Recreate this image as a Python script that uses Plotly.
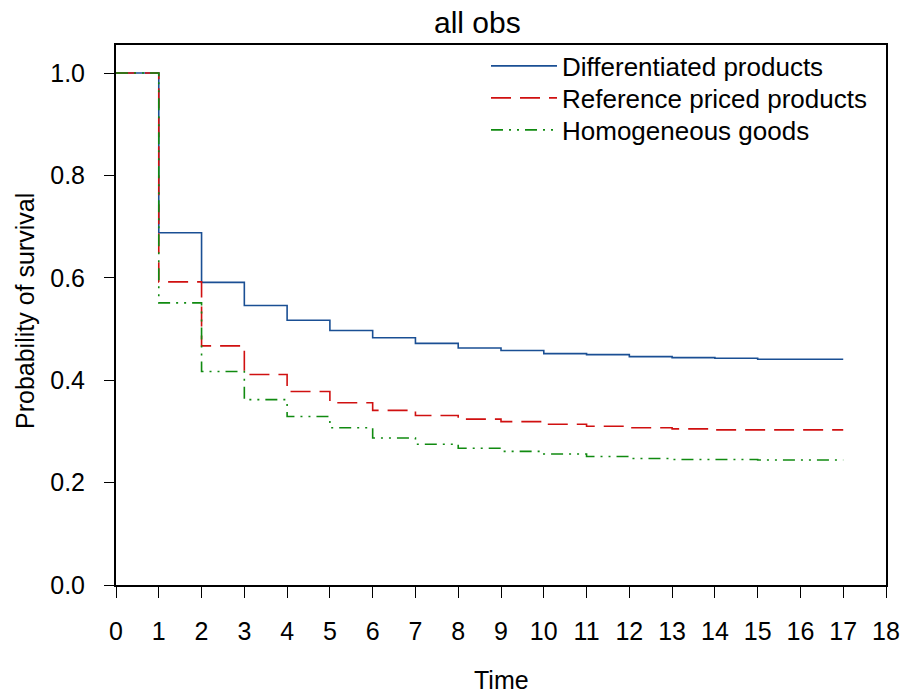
import plotly.graph_objects as go

time = list(range(0, 18))
diff_products = [1.0, 0.688, 0.591, 0.546, 0.517, 0.497, 0.483, 0.472, 0.463, 0.458,
                 0.452, 0.450, 0.446, 0.444, 0.443, 0.441, 0.441, 0.441]
ref_priced = [1.0, 0.592, 0.467, 0.411, 0.378, 0.356, 0.341, 0.331, 0.324, 0.319,
              0.314, 0.310, 0.307, 0.305, 0.303, 0.303, 0.303, 0.303]
homogeneous = [1.0, 0.551, 0.417, 0.362, 0.329, 0.307, 0.287, 0.275, 0.267, 0.261,
               0.256, 0.251, 0.247, 0.245, 0.245, 0.244, 0.244, 0.244]
x_ticks = list(range(0, 19))
y_ticks = [0.0, 0.2, 0.4, 0.6, 0.8, 1.0]

FONT = "Liberation Sans, Arial, sans-serif"
L, R, T, B = 116, 19, 45, 111
PW, PH = 905 - L - R, 696 - T - B

fig = go.Figure()
fig.add_trace(go.Scatter(x=time, y=diff_products, mode="lines", line_shape="hv",
                         name="Differentiated products", legend="legend",
                         line=dict(color="#1a4f94", width=1.6, dash="solid")))
fig.add_trace(go.Scatter(x=time, y=ref_priced, mode="lines", line_shape="hv",
                         name="Reference priced products", legend="legend2",
                         line=dict(color="#d01010", width=1.6, dash="20px,9px")))
fig.add_trace(go.Scatter(x=time, y=homogeneous, mode="lines", line_shape="hv",
                         name="Homogeneous goods", legend="legend3",
                         line=dict(color="#108a10", width=1.6, dash="12px,6px,2px,6px,2px,6px")))


def leg(row_y):
    return dict(x=(486 - L) / PW, y=(585 - row_y) / PH, xanchor="left", yanchor="middle",
                bgcolor="rgba(0,0,0,0)", font=dict(size=26, family=FONT),
                itemwidth=66, borderwidth=0)


fig.update_layout(
    width=905, height=696,
    margin=dict(l=L, r=R, t=T, b=B),
    paper_bgcolor="white", plot_bgcolor="white",
    font=dict(family=FONT, size=25, color="black"),
    showlegend=True,
    legend=leg(66), legend2=leg(98), legend3=leg(130),
    annotations=[
        dict(text="all obs", x=(477 - L) / PW, xref="paper", y=(585 - 22) / PH, yref="paper",
             xanchor="center", yanchor="middle", showarrow=False,
             font=dict(size=30, family=FONT)),
        dict(text="Time", x=(501 - L) / PW, xref="paper", y=(585 - 680) / PH, yref="paper",
             xanchor="center", yanchor="middle", showarrow=False,
             font=dict(size=25, family=FONT)),
        dict(text="Probability of survival", x=(25 - L) / PW, xref="paper",
             y=(585 - 311) / PH, yref="paper", textangle=-90,
             xanchor="center", yanchor="middle", showarrow=False,
             font=dict(size=25, family=FONT)),
    ],
)

fig.update_xaxes(range=[0, 18], tickvals=x_ticks, ticktext=[str(v) for v in x_ticks],
                 showline=True, linecolor="black", linewidth=2, mirror=True,
                 ticks="outside", ticklen=11, tickwidth=1, tickcolor="black",
                 showgrid=False, zeroline=False, automargin=False,
                 ticklabelstandoff=12, tickfont=dict(size=25))
fig.update_yaxes(range=[0, 1.0547], tickvals=y_ticks, ticktext=[f"{v:.1f}" for v in y_ticks],
                 showline=True, linecolor="black", linewidth=2, mirror=True,
                 ticks="outside", ticklen=10, tickwidth=1, tickcolor="black",
                 showgrid=False, zeroline=False, automargin=False,
                 ticklabelstandoff=14, tickfont=dict(size=25))

fig.write_html("out.html",
               config={"displayModeBar": False},
               post_script="document.body.style.margin='0';document.body.style.padding='0';"
                           "document.body.style.overflow='hidden';")
